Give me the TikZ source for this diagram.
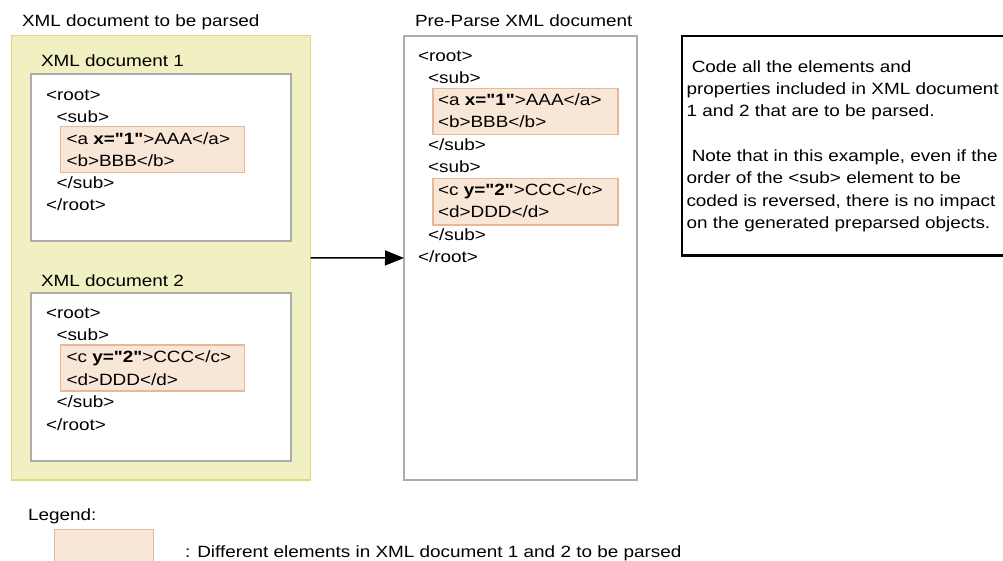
\documentclass[tikz,border=0pt]{standalone}
\usepackage{fontspec}
\setmainfont{Liberation Sans}[FakeStretch=1.16,Ligatures=TeXOff]
\usetikzlibrary{arrows.meta}
\definecolor{parsefill}{RGB}{240,240,194}
\definecolor{parseline}{RGB}{216,220,122}
\definecolor{difffill}{RGB}{248,230,214}
\definecolor{diffline}{RGB}{232,184,150}
\definecolor{docline}{RGB}{172,172,172}
\begin{document}
\begin{tikzpicture}[x=1pt,y=-1pt,
    every node/.style={inner sep=0pt,outer sep=0pt,font=\fontsize{16.3}{22}\selectfont},
    txt/.style={anchor=base west},
    box/.style={draw,anchor=north west,line width=1.5pt},
    parsebox/.style={box,draw=parseline,fill=parsefill},
    docbox/.style={box,draw=docline,fill=white},
    diffbox/.style={box,draw=diffline,fill=difffill},
    notebox/.style={box,draw=black,line width=2pt}]
  \useasboundingbox (0,0) rectangle (1003,561);
  % boxes
  \node[parsebox,minimum width=299pt,minimum height=444.5pt] (parsed) at (11.5,35.5) {};
  \node[docbox,minimum width=260pt,minimum height=167pt] (doc1) at (31,74) {};
  \node[docbox,minimum width=260pt,minimum height=168pt] (doc2) at (31,293) {};
  \node[diffbox,minimum width=184pt,minimum height=46pt] (diff1) at (60.5,126.5) {};
  \node[diffbox,minimum width=184pt,minimum height=46pt] (diff2) at (60.5,345) {};
  \node[docbox,minimum width=233pt,minimum height=444pt] (preparse) at (404,36) {};
  \node[diffbox,minimum width=185pt,minimum height=46pt] (diff3) at (433,88.5) {};
  \node[diffbox,minimum width=185pt,minimum height=46.5pt] (diff4) at (433,178.5) {};
  \node[notebox,minimum width=340pt,minimum height=219pt] (note) at (681.5,36.5) {};
  \node[diffbox,minimum width=99pt,minimum height=45pt] (legendbox) at (54.5,529.5) {};
  % titles
  \path
    (22,27) node[txt] (parsedtitle) {XML document to be parsed}
    (415,27) node[txt] (preparsetitle) {Pre-Parse XML document}
    (41,67) node[txt] (doc1title) {XML document 1}
    (41,286) node[txt] (doc2title) {XML document 2};
  % XML document 1
  \path
    (46,101) node[txt] (d1root) {<root>}
    (56.5,123) node[txt] (d1sub) {<sub>}
    (66.5,145) node[txt] (d1a) {<a \textbf{x="1"}>AAA</a>}
    (66.5,167) node[txt] (d1b) {<b>BBB</b>}
    (56.5,189) node[txt] (d1subend) {</sub>}
    (46,211) node[txt] (d1rootend) {</root>};
  % XML document 2
  \path
    (46,318.5) node[txt] (d2root) {<root>}
    (56.5,340.5) node[txt] (d2sub) {<sub>}
    (66.5,362.5) node[txt] (d2c) {<c \textbf{y="2"}>CCC</c>}
    (66.5,385) node[txt] (d2d) {<d>DDD</d>}
    (56.5,407.5) node[txt] (d2subend) {</sub>}
    (46,430) node[txt] (d2rootend) {</root>};
  % pre-parse XML document
  \path
    (418,61.5) node[txt] (pproot) {<root>}
    (428,83.5) node[txt] (ppsub1) {<sub>}
    (438,106) node[txt] (ppa) {<a \textbf{x="1"}>AAA</a>}
    (438,128) node[txt] (ppb) {<b>BBB</b>}
    (428,150.5) node[txt] (ppsub1end) {</sub>}
    (428,173) node[txt] (ppsub2) {<sub>}
    (438,195.5) node[txt] (ppc) {<c \textbf{y="2"}>CCC</c>}
    (438,218) node[txt] (ppd) {<d>DDD</d>}
    (428,240.5) node[txt] (ppsub2end) {</sub>}
    (418,262.5) node[txt] (pprootend) {</root>};
  % note
  \path
    (686.5,73) node[txt] (note1) {\ Code all the elements and}
    (686.5,95) node[txt] (note2) {properties included in XML document}
    (686.5,117) node[txt] (note3) {1 and 2 that are to be parsed.}
    (686.5,162) node[txt] (note4) {\ Note that in this example, even if the}
    (686.5,184) node[txt] (note5) {order of the <sub> element to be}
    (686.5,206.5) node[txt] (note6) {coded is reversed, there is no impact}
    (686.5,229) node[txt] (note7) {on the generated preparsed objects.};
  % legend
  \path
    (28,520) node[txt] (legendtitle) {Legend:}
    (185,557) node[txt] (legendtext) {: Different elements in XML document 1 and 2 to be parsed};
  % connector
  \draw[line width=1.5pt,-{Triangle[length=19pt,width=15pt]}] (parsed.east) -- (preparse.west);
\end{tikzpicture}
\end{document}
